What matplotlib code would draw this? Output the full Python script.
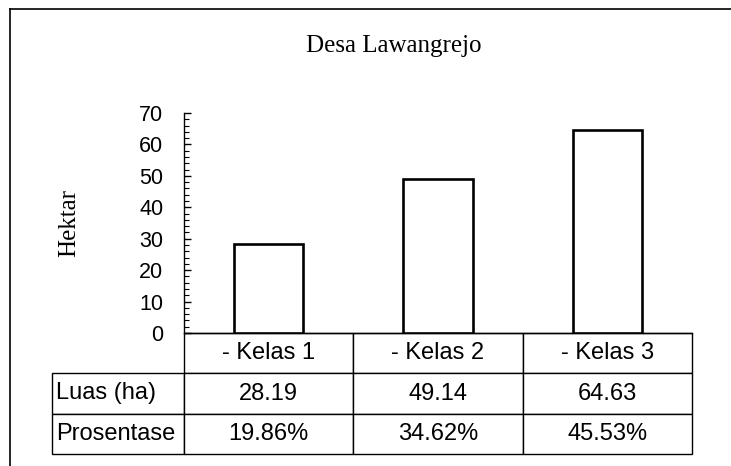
import matplotlib
matplotlib.use("Agg")
import matplotlib.pyplot as plt
from matplotlib.lines import Line2D
from matplotlib.ticker import MultipleLocator

# ── data ──────────────────────────────────────────────────────────────────────
title      = "Desa Lawangrejo"
categories = ["- Kelas 1", "- Kelas 2", "- Kelas 3"]
luas       = [28.19, 49.14, 64.63]
prosentase = ["19.86%", "34.62%", "45.53%"]
row_labels = ["Luas (ha)", "Prosentase"]
y_ticks    = [0, 10, 20, 30, 40, 50, 60, 70]

SANS  = "Liberation Sans"
SERIF = "Liberation Serif"

W, H = 731, 466
fig = plt.figure(figsize=(W / 100, H / 100), dpi=100)
fig.patch.set_facecolor("white")

# axes box in pixel terms (left 184, right 692, top 113, bottom 333)
ax = fig.add_axes([184 / W, 1 - 333 / H, 508 / W, 220 / H])

x = list(range(len(categories)))
ax.bar(x, luas, width=0.41, color="white", edgecolor="black", linewidth=1.9, zorder=3)

ax.set_xlim(-0.5, len(categories) - 0.5)
ax.set_ylim(0, 70)
ax.set_yticks(y_ticks)
ax.yaxis.set_minor_locator(MultipleLocator(2))
ax.tick_params(axis="y", which="major", direction="in", length=5, width=1,
               pad=15, labelsize=15.5)
ax.tick_params(axis="y", which="minor", direction="in", length=3.5, width=0.8)
ax.set_xticks([])
for lbl in ax.get_yticklabels():
    lbl.set_fontfamily(SANS)
for side in ("top", "right"):
    ax.spines[side].set_visible(False)
ax.spines["left"].set_linewidth(1.0)
ax.spines["bottom"].set_linewidth(1.0)

# ── data table under the axes (first column holds the row labels) ───────────
label_w = 132 / 508
cell_text = [[row_labels[0]] + [f"{v:.2f}" for v in luas],
             [row_labels[1]] + prosentase]
tbl = ax.table(
    cellText=cell_text,
    colLabels=[""] + categories,
    colWidths=[label_w] + [1 / 3] * 3,
    cellLoc="center",
    bbox=[-label_w, -121 / 220, 1 + label_w, 121 / 220],
)
tbl.auto_set_font_size(False)
tbl.set_fontsize(17)
for (r, c), cell in tbl.get_celld().items():
    cell.set_linewidth(1.0)
    cell.set_edgecolor("black")
    cell.get_text().set_fontfamily(SANS)
    if c == 0:
        cell.PAD = 0.03
        cell.get_text().set_ha("left")
        cell._loc = "left"
        if r == 0:
            cell.set_visible(False)

# ── labels ───────────────────────────────────────────────────────────────────
fig.text(394 / W, 1 - 46 / H, title, ha="center", va="center",
         fontsize=18, fontfamily=SERIF)
fig.text(69 / W, 1 - 223 / H, "Hektar", ha="center", va="center",
         rotation=90, fontsize=18, fontfamily=SERIF)

# outer frame (left and top edges only, as in the scan)
fig.add_artist(Line2D([10 / W, 10 / W], [0, 1 - 9 / H], color="black", linewidth=1.2))
fig.add_artist(Line2D([10 / W, 1], [1 - 9 / H, 1 - 9 / H], color="black", linewidth=1.2))

fig.savefig("out.png", dpi=100)
